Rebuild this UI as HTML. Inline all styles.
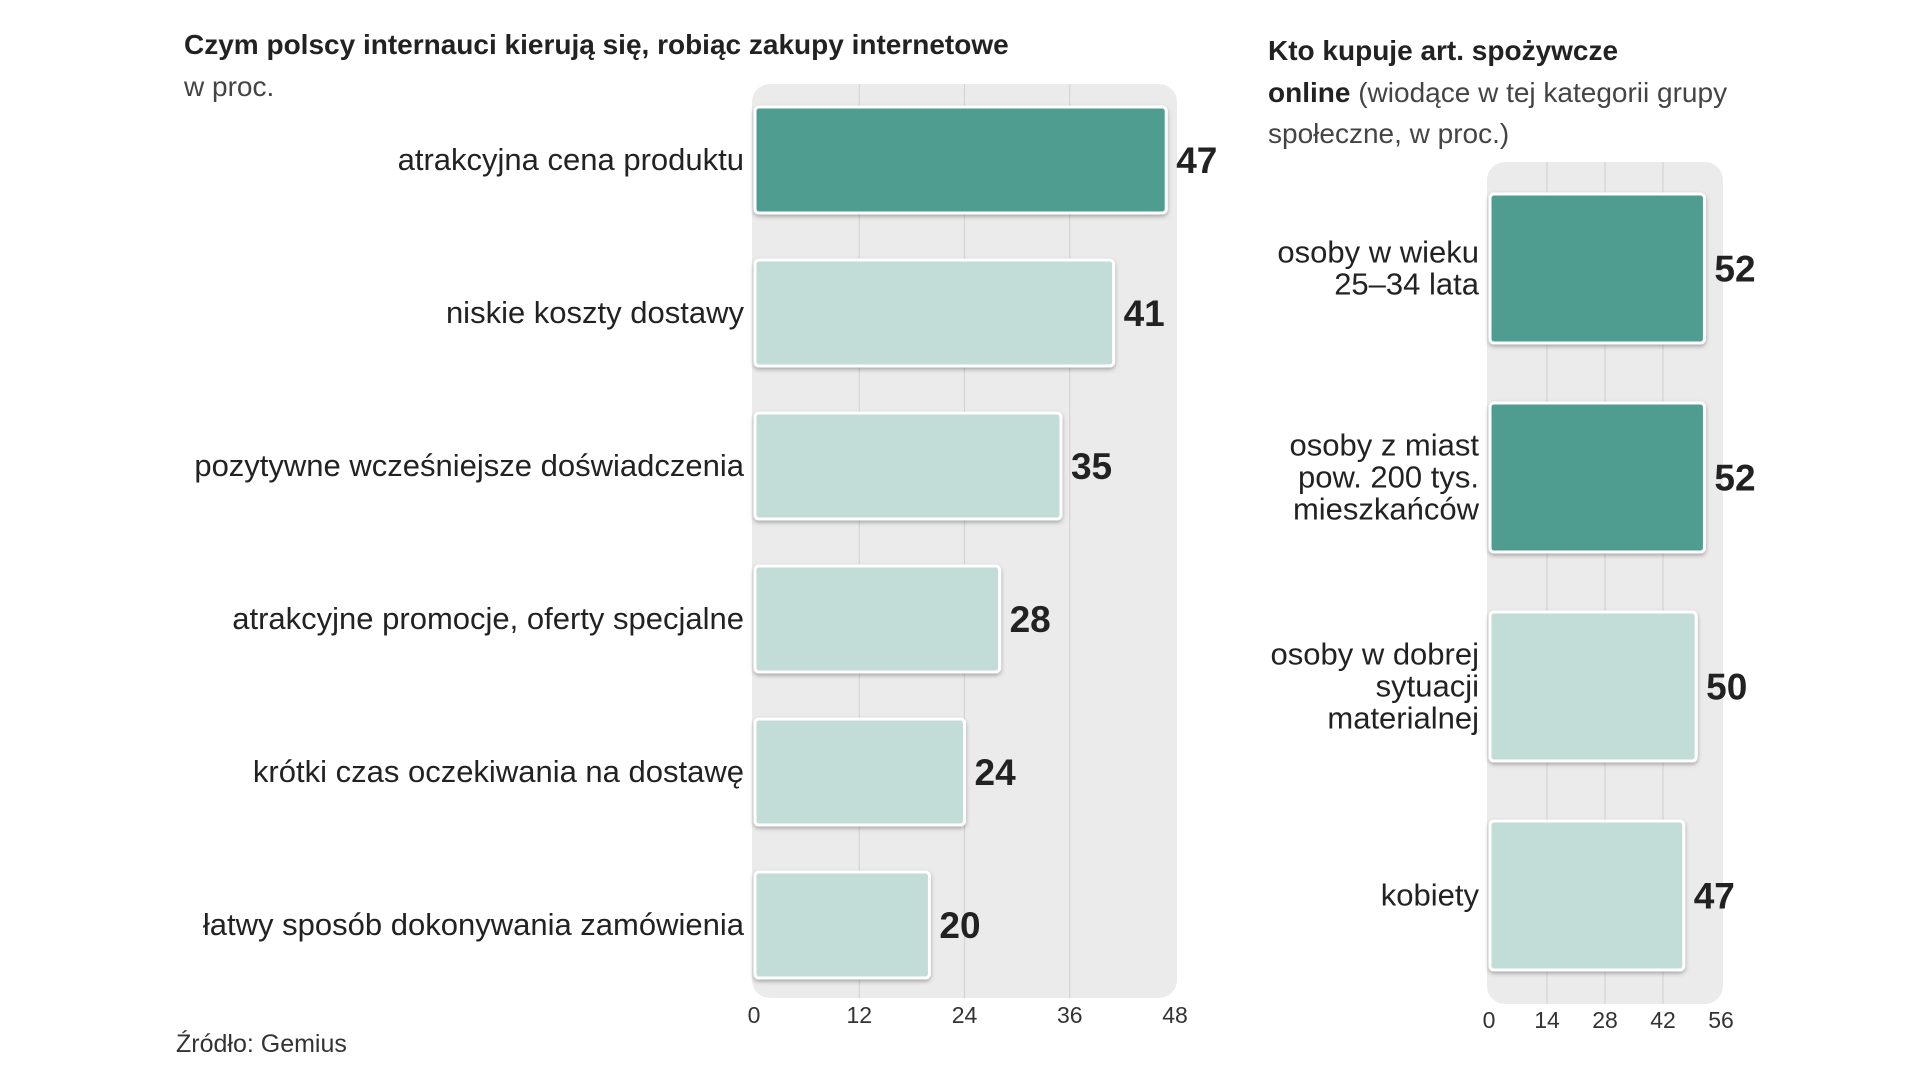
<!DOCTYPE html>
<html><head><meta charset="utf-8">
<style>
html,body{margin:0;padding:0;background:#fff;width:1920px;height:1080px;overflow:hidden}
svg{display:block}
text{font-family:"Liberation Sans Narrow","Liberation Sans","DejaVu Sans Condensed",sans-serif;fill:#222}
.cat{font-size:31px}
.val{font-size:37px;font-weight:bold}
.tick{font-size:23px;fill:#333}
.title{font-size:28px;font-weight:bold}
.sub{font-size:28px;fill:#444}
</style></head>
<body>
<svg id="chart" width="1920" height="1080" viewBox="0 0 1920 1080">
<defs>
<filter id="sh" x="-5%" y="-5%" width="110%" height="115%"><feDropShadow dx="0" dy="2" stdDeviation="2" flood-color="#000" flood-opacity="0.3"/></filter>
</defs>
<text class="title" x="184" y="54">Czym polscy internauci kierują się, robiąc zakupy internetowe</text>
<text class="sub" x="184" y="96">w proc.</text>
<text x="1268" y="60" class="title">Kto kupuje art. spożywcze</text>
<text x="1268" y="102" class="sub"><tspan font-weight="bold" fill="#222">online</tspan> (wiodące w tej kategorii grupy</text>
<text x="1268" y="143" class="sub">społeczne, w proc.)</text>
<text class="tick" x="176" y="1052" style="font-size:25px">Źródło: Gemius</text>
<g id="left"></g>
<g id="right"></g>
</svg>
<script>
const leftCategories=["atrakcyjna cena produktu","niskie koszty dostawy","pozytywne wcześniejsze doświadczenia","atrakcyjne promocje, oferty specjalne","krótki czas oczekiwania na dostawę","łatwy sposób dokonywania zamówienia"];
const leftValues=[47,41,35,28,24,20];
const leftHighlight=[true,false,false,false,false,false];
const leftTicks=[0,12,24,36,48];
const rightCategories=[["osoby w wieku","25–34 lata"],["osoby z miast","pow. 200 tys.","mieszkańców"],["osoby w dobrej","sytuacji","materialnej"],["kobiety"]];
const rightValues=[52,52,50,47];
const rightHighlight=[true,true,false,false];
const rightTicks=[0,14,28,42,56];
const NS="http://www.w3.org/2000/svg";
function mk(tag,attrs,parent){const e=document.createElementNS(NS,tag);for(const k in attrs)e.setAttribute(k,attrs[k]);parent.appendChild(e);return e;}
function draw(g,cfg){
  const {cats,vals,hl,ticks,x0,x1,max,py0,py1,rowY,barH,tickY,prefix}=cfg;
  const xs=v=>x0+(x1-x0)*v/max;
  const bg=mk('rect',{x:x0-2,y:py0,width:x1-x0+4,height:py1-py0,rx:18,fill:'#ebebeb'},g);
  
  
  ticks.forEach(t=>{
    if(t>0&&t<max){const l=mk('line',{x1:xs(t),x2:xs(t),y1:py0,y2:py1,stroke:'#d4d4d4','stroke-width':1.2},g);
      
      }
    const tx=mk('text',{x:xs(t),y:tickY,'text-anchor':'middle',class:'tick'},g);tx.textContent=t;
    
    
  });
  vals.forEach((v,i)=>{
    const y=rowY(i);
    const r=mk('rect',{x:x0+1,y:y,width:xs(v)-x0-1,height:barH,rx:4,fill:hl[i]?'#4f9d90':'#c2dcd7',stroke:'#fff','stroke-width':3,filter:'url(#sh)'},g);
    
    
    const cy=y+barH/2;
    const vt=mk('text',{x:xs(v)+10,y:cy+13,class:'val'},g);vt.textContent=v;
    
    
    const lines=Array.isArray(cats[i])?cats[i]:[cats[i]];
    const lh=32;
    const ct=mk('text',{x:x0-10,y:cy+10-(lines.length-1)*lh/2,'text-anchor':'end',class:'cat'},g);
    
    
    lines.forEach((s,j)=>{const ts=mk('tspan',{x:x0-10,dy:j?lh:0},ct);ts.textContent=s;});
  });
}
draw(document.getElementById('left'),{cats:leftCategories,vals:leftValues,hl:leftHighlight,ticks:leftTicks,x0:754,x1:1175,max:48,py0:84,py1:998,rowY:i=>107+i*153,barH:106,tickY:1023,prefix:'left'});
draw(document.getElementById('right'),{cats:rightCategories,vals:rightValues,hl:rightHighlight,ticks:rightTicks,x0:1489,x1:1721,max:56,py0:162,py1:1004,rowY:i=>194+i*209,barH:149,tickY:1028,prefix:'right'});
</script>
</body></html>
